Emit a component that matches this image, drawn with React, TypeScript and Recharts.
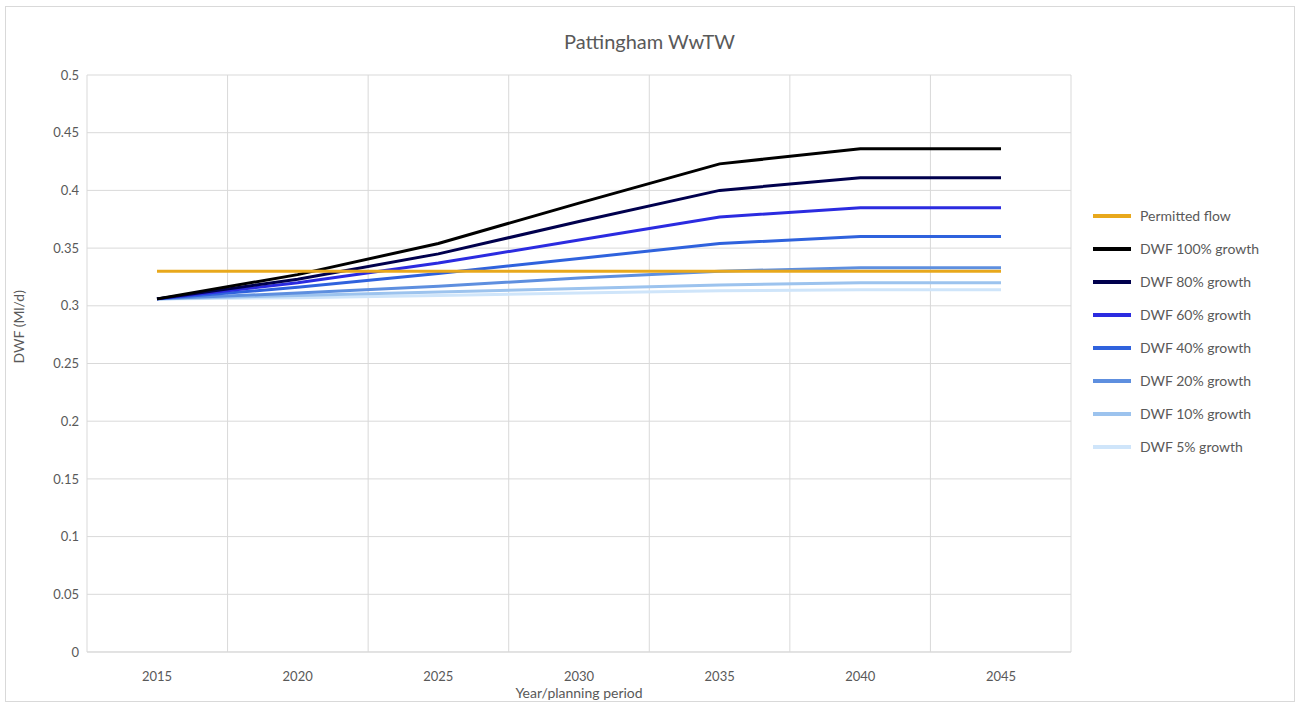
import React from 'react';
import { LineChart, Line, XAxis, YAxis, CartesianGrid } from 'recharts';

const years: string[] = ['2015', '2020', '2025', '2030', '2035', '2040', '2045'];
const permittedFlow: number[] = [0.33, 0.33, 0.33, 0.33, 0.33, 0.33, 0.33];
const growth100: number[] = [0.306, 0.327, 0.354, 0.389, 0.423, 0.436, 0.436];
const growth80: number[] = [0.306, 0.323, 0.345, 0.373, 0.4, 0.411, 0.411];
const growth60: number[] = [0.306, 0.32, 0.337, 0.357, 0.377, 0.385, 0.385];
const growth40: number[] = [0.306, 0.316, 0.328, 0.341, 0.354, 0.36, 0.36];
const growth20: number[] = [0.306, 0.311, 0.317, 0.324, 0.33, 0.333, 0.333];
const growth10: number[] = [0.306, 0.309, 0.312, 0.315, 0.318, 0.32, 0.32];
const growth5: number[] = [0.306, 0.307, 0.309, 0.311, 0.313, 0.314, 0.314];
const yTicks: number[] = [0, 0.05, 0.1, 0.15, 0.2, 0.25, 0.3, 0.35, 0.4, 0.45, 0.5];
const gridTicks: number[] = [0, 1, 2, 3, 4, 5, 6, 7];

const series = [
  { key: 'permitted', name: 'Permitted flow', values: permittedFlow, color: '#E8A81C' },
  { key: 'g100', name: 'DWF 100% growth', values: growth100, color: '#000000' },
  { key: 'g80', name: 'DWF 80% growth', values: growth80, color: '#00004D' },
  { key: 'g60', name: 'DWF 60% growth', values: growth60, color: '#2B2BE0' },
  { key: 'g40', name: 'DWF 40% growth', values: growth40, color: '#2F62DD' },
  { key: 'g20', name: 'DWF 20% growth', values: growth20, color: '#5E8FDF' },
  { key: 'g10', name: 'DWF 10% growth', values: growth10, color: '#9CC3EE' },
  { key: 'g5', name: 'DWF 5% growth', values: growth5, color: '#CFE5FA' },
];

const data = years.map((year, i) => {
  const row: Record<string, string | number> = { year, idx: i + 0.5 };
  series.forEach((s) => {
    row[s.key] = s.values[i];
  });
  return row;
});

const FONT = 'Lato, "Open Sans", sans-serif';
const TEXT = '#595959';

// legend drawn outside the chart so it doesn't shrink the plot area
const LegendBox = () => (
  <div style={{ position: 'absolute', left: 1093, top: 199, fontFamily: FONT, fontSize: 14, color: TEXT }}>
    {series.map((s) => (
      <div key={s.key} style={{ display: 'flex', alignItems: 'center', height: 33 }}>
        <span style={{ display: 'inline-block', width: 38, height: 4, background: s.color, marginRight: 9 }} />
        <span>{s.name}</span>
      </div>
    ))}
  </div>
);

const App: React.FC = () => {
  return (
    <div style={{ position: 'absolute', left: 0, top: 0, width: 1299, height: 706, background: '#fff' }}>
      <div
        style={{
          position: 'absolute', left: 5, top: 6, width: 1290, height: 696,
          border: '1px solid #d9d9d9', boxSizing: 'border-box',
        }}
      />
      <div
        style={{
          position: 'absolute', left: 0, top: 29, width: 1299, textAlign: 'center',
          fontFamily: FONT, fontSize: 20, color: TEXT,
        }}
      >
        Pattingham WwTW
      </div>
      <LineChart
        width={1299}
        height={706}
        data={data}
        margin={{ top: 75, right: 228, left: 47, bottom: 24 }}
        style={{ position: 'absolute', left: 0, top: 0 }}
      >
        <CartesianGrid xAxisId="grid" stroke="#d9d9d9" strokeWidth={1} />
        <XAxis
          dataKey="year"
          padding={{ left: 70, right: 70 }}
          axisLine={{ stroke: '#d9d9d9' }}
          tickLine={false}
          tick={{ fill: TEXT, fontSize: 13, fontFamily: FONT }}
          tickMargin={14}
          height={30}
          label={{ value: 'Year/planning period', position: 'insideBottom', offset: -16, fill: TEXT, fontSize: 14, fontFamily: FONT }}
        />
        <XAxis xAxisId="grid" dataKey="idx" type="number" domain={[0, 7]} ticks={gridTicks} hide />
        <YAxis
          domain={[0, 0.5]}
          ticks={yTicks}
          width={40}
          axisLine={false}
          tickLine={false}
          tick={{ fill: TEXT, fontSize: 13, fontFamily: FONT }}
          tickFormatter={(v: number) => String(v)}
          label={{ value: 'DWF (Ml/d)', angle: -90, position: 'insideLeft', offset: -28, fill: TEXT, fontSize: 14, fontFamily: FONT }}
        />
        {series
          .slice()
          .reverse()
          .map((s) => (
            <Line
              key={s.key}
              dataKey={s.key}
              name={s.name}
              stroke={s.color}
              strokeWidth={3}
              dot={false}
              type="linear"
              isAnimationActive={false}
            />
          ))}
      </LineChart>
      <LegendBox />
    </div>
  );
};

export default App;
